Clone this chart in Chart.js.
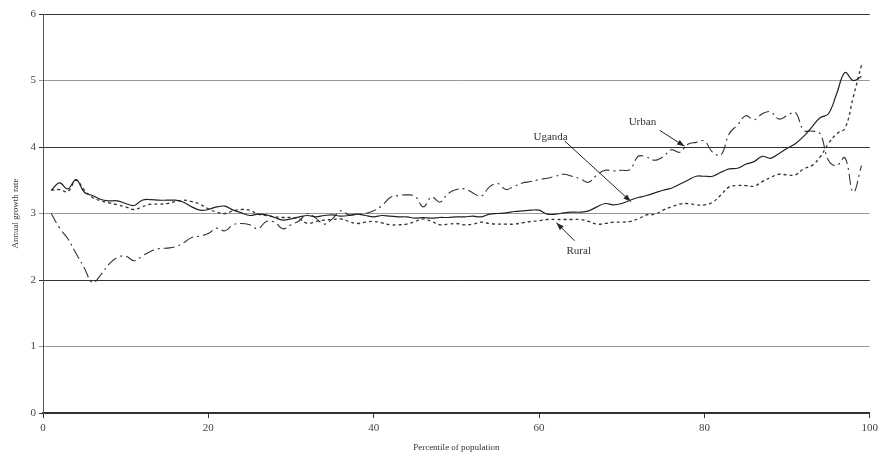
<!DOCTYPE html>
<html lang="en">
<head>
    <meta charset="UTF-8">
    <script src="https://cdn.jsdelivr.net/npm/chart.js"></script>
    <title>Growth incidence curves</title>
    <style>
        body { margin: 0; background: #fff; }
        .box { width: 882px; height: 462px; }
    </style>
</head>
<body>
    <div class="box">
        <canvas id="myChart"></canvas>
    </div>

<script>
    // percentile 1..99
    let percentis = []
    for (let i = 1; i <= 99; i++) percentis.push(i)

    let uganda = [
        3.35, 3.46, 3.37, 3.51, 3.32, 3.27, 3.21, 3.19, 3.19, 3.15,
        3.12, 3.20, 3.21, 3.20, 3.20, 3.20, 3.17, 3.10, 3.05, 3.06,
        3.10, 3.11, 3.05, 3.01, 2.97, 2.99, 2.98, 2.94, 2.90, 2.92,
        2.95, 2.97, 2.95, 2.97, 2.98, 2.96, 2.97, 2.99, 2.97, 2.95,
        2.97, 2.96, 2.95, 2.95, 2.93, 2.94, 2.93, 2.94, 2.94, 2.95,
        2.95, 2.96, 2.95, 2.99, 3.00, 3.01, 3.03, 3.04, 3.05, 3.05,
        2.99, 2.99, 3.01, 3.02, 3.02, 3.04, 3.10, 3.15, 3.13, 3.15,
        3.20, 3.24, 3.27, 3.31, 3.35, 3.38, 3.44, 3.50, 3.56, 3.56,
        3.56, 3.62, 3.67, 3.68, 3.74, 3.78, 3.86, 3.83, 3.90, 3.98,
        4.05, 4.16, 4.30, 4.44, 4.50, 4.80, 5.12, 5.00, 5.06
    ]

    let urban = [
        3.00, 2.78, 2.62, 2.40, 2.18, 1.96, 2.08, 2.24, 2.34, 2.36,
        2.29, 2.36, 2.43, 2.47, 2.48, 2.50, 2.56, 2.64, 2.66, 2.70,
        2.78, 2.74, 2.83, 2.85, 2.83, 2.77, 2.88, 2.87, 2.77, 2.83,
        2.89, 3.00, 2.93, 2.84, 2.92, 3.04, 2.98, 2.99, 3.00, 3.04,
        3.12, 3.24, 3.27, 3.28, 3.26, 3.10, 3.25, 3.17, 3.30, 3.36,
        3.37, 3.31, 3.26, 3.40, 3.45, 3.36, 3.41, 3.46, 3.48, 3.51,
        3.53, 3.56, 3.59, 3.56, 3.52, 3.47, 3.58, 3.65, 3.64, 3.65,
        3.66, 3.86, 3.85, 3.80, 3.85, 3.96, 3.92, 4.04, 4.07, 4.09,
        3.92, 3.88, 4.20, 4.33, 4.47, 4.41, 4.50, 4.53, 4.42, 4.47,
        4.52, 4.25, 4.24, 4.20, 3.80, 3.72, 3.84, 3.32, 3.72
    ]

    let rural = [
        3.35, 3.36, 3.33, 3.50, 3.35, 3.24, 3.19, 3.16, 3.13, 3.10,
        3.06, 3.10, 3.14, 3.14, 3.15, 3.18, 3.20, 3.18, 3.14, 3.07,
        3.02, 3.00, 3.04, 3.06, 3.05, 2.99, 2.97, 2.95, 2.94, 2.94,
        2.92, 2.85, 2.88, 2.90, 2.91, 2.92, 2.88, 2.85, 2.87, 2.88,
        2.86, 2.83, 2.83, 2.84, 2.88, 2.92, 2.88, 2.83, 2.84, 2.85,
        2.83, 2.84, 2.87, 2.85, 2.84, 2.84, 2.84, 2.86, 2.88, 2.89,
        2.91, 2.91, 2.91, 2.91, 2.91, 2.88, 2.84, 2.85, 2.87, 2.87,
        2.88, 2.92, 2.98, 2.99, 3.05, 3.10, 3.14, 3.15, 3.13, 3.13,
        3.17, 3.28, 3.40, 3.42, 3.42, 3.41, 3.48, 3.54, 3.59, 3.58,
        3.58, 3.67, 3.72, 3.85, 4.05, 4.20, 4.28, 4.75, 5.23
    ]

    let ticksX = [0, 20, 40, 60, 80, 100]
    let ticksY = [0, 1, 2, 3, 4, 5, 6]

    // labels with arrows, in data units: text pos, arrow from, arrow to
    let rotulos = [
        { texto: 'Uganda', tx: 61.4, ty: 4.15, x1: 63.1, y1: 4.09, x2: 71.1, y2: 3.18 },
        { texto: 'Urban', tx: 72.5, ty: 4.37, x1: 74.6, y1: 4.25, x2: 77.6, y2: 4.01 },
        { texto: 'Rural', tx: 64.8, ty: 2.44, x1: 64.3, y1: 2.59, x2: 62.1, y2: 2.86 }
    ]

    function pares(valores) {
        return valores.map((v, i) => ({ x: percentis[i], y: v }))
    }

    const setas = {
        id: 'setas',
        afterDatasetsDraw(chart) {
            const ctx = chart.ctx
            const sx = chart.scales.x
            const sy = chart.scales.y
            ctx.save()
            ctx.font = '11px "Liberation Serif", serif'
            ctx.fillStyle = '#333'
            ctx.strokeStyle = '#222'
            ctx.lineWidth = 1
            ctx.textAlign = 'center'
            ctx.textBaseline = 'middle'
            rotulos.forEach(r => {
                ctx.fillText(r.texto, sx.getPixelForValue(r.tx), sy.getPixelForValue(r.ty))
                const ax = sx.getPixelForValue(r.x1), ay = sy.getPixelForValue(r.y1)
                const bx = sx.getPixelForValue(r.x2), by = sy.getPixelForValue(r.y2)
                ctx.beginPath()
                ctx.moveTo(ax, ay)
                ctx.lineTo(bx, by)
                ctx.stroke()
                const ang = Math.atan2(by - ay, bx - ax)
                ctx.beginPath()
                ctx.moveTo(bx, by)
                ctx.lineTo(bx - 8 * Math.cos(ang - 0.35), by - 8 * Math.sin(ang - 0.35))
                ctx.lineTo(bx - 8 * Math.cos(ang + 0.35), by - 8 * Math.sin(ang + 0.35))
                ctx.closePath()
                ctx.fillStyle = '#222'
                ctx.fill()
                ctx.fillStyle = '#333'
            })
            ctx.restore()
        }
    }

    window.onload = () => {
        plotarGrafico()
    }

    function plotarGrafico() {
        const ctx = document.getElementById('myChart')
        Chart.defaults.font.family = '"Liberation Serif", serif'
        Chart.defaults.color = '#444'

        new Chart(ctx, {
            type: 'line',
            data: {
                datasets: [{
                    label: 'Uganda',
                    data: pares(uganda),
                    borderColor: '#222',
                    borderWidth: 1.2,
                    pointRadius: 0,
                    tension: 0.4
                }, {
                    label: 'Urban',
                    data: pares(urban),
                    borderColor: '#333',
                    borderWidth: 1.1,
                    borderDash: [11, 4, 2, 4],
                    pointRadius: 0,
                    tension: 0.4
                }, {
                    label: 'Rural',
                    data: pares(rural),
                    borderColor: '#333',
                    borderWidth: 1.3,
                    borderDash: [3, 3],
                    pointRadius: 0,
                    tension: 0.4
                }]
            },
            options: {
                responsive: true,
                maintainAspectRatio: false,
                animation: false,
                layout: { padding: { top: 14, right: 12, left: 10, bottom: 9 } },
                plugins: {
                    legend: { display: false },
                    tooltip: { enabled: false }
                },
                scales: {
                    x: {
                        type: 'linear',
                        min: 0,
                        max: 100,
                        afterBuildTicks: s => { s.ticks = ticksX.map(v => ({ value: v })) },
                        grid: { drawOnChartArea: false, color: '#333', tickLength: 5 },
                        border: { color: '#333', width: 1.2 },
                        ticks: { font: { size: 11 }, color: '#444', padding: 4, maxRotation: 0 },
                        title: {
                            display: true,
                            text: 'Percentile of population',
                            font: { size: 9 },
                            color: '#333',
                            padding: { top: 3, bottom: 0 }
                        }
                    },
                    y: {
                        min: 0,
                        max: 6,
                        afterBuildTicks: s => { s.ticks = ticksY.map(v => ({ value: v })) },
                        afterFit: s => { s.width = 33 },
                        grid: {
                            color: c => (c.tick && c.tick.value % 2 === 1) ? '#999' : '#333',
                            lineWidth: 1,
                            tickLength: 4
                        },
                        border: { color: '#555', width: 1 },
                        ticks: { font: { size: 11 }, color: '#444', padding: 3 },
                        title: {
                            display: true,
                            text: 'Annual growth rate',
                            font: { size: 9 },
                            color: '#333',
                            padding: { top: 0, bottom: 2 }
                        }
                    }
                }
            },
            plugins: [setas]
        })
    }
</script>
</body>
</html>
